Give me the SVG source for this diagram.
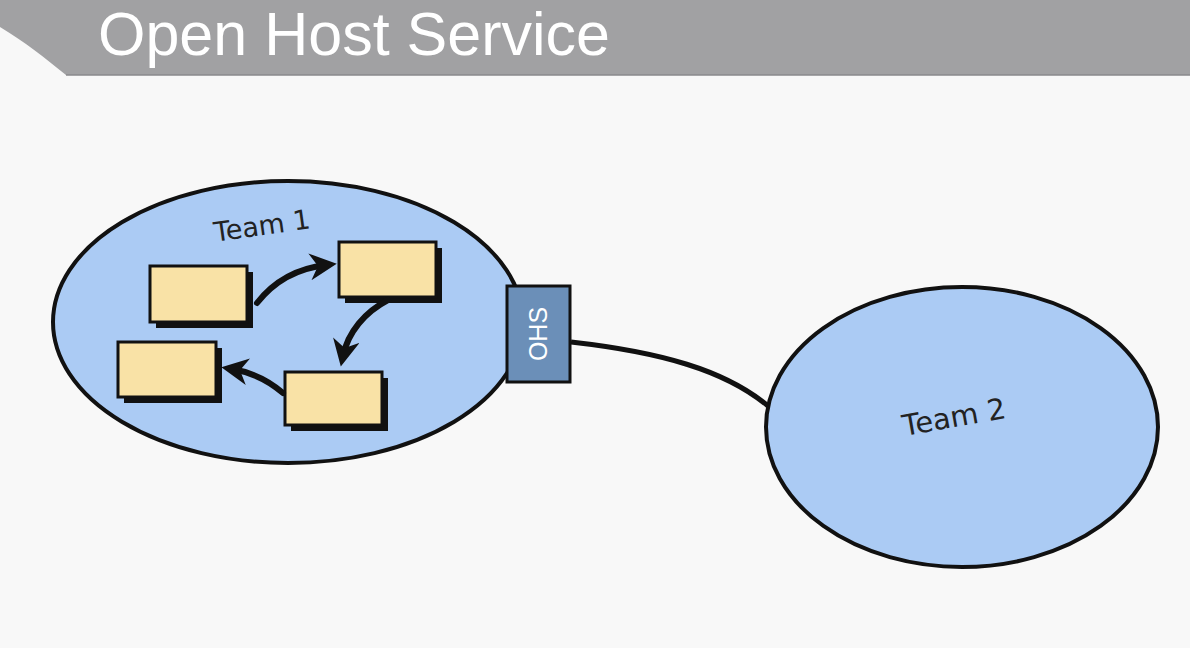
<svg xmlns="http://www.w3.org/2000/svg" width="1190" height="648" viewBox="0 0 1190 648">
<style>
.team{fill:#abcbf4;stroke:#111;stroke-width:4}
.box{fill:#f9e2a6;stroke:#111;stroke-width:3}
.shadow{fill:#111}
.lbl{font-family:"DejaVu Sans",Verdana,sans-serif;fill:#222}
.arr{fill:none;stroke:#111;stroke-width:6;stroke-linecap:round}
</style>
<defs>
<marker id="ah" viewBox="0 0 10 10" refX="6" refY="5" markerWidth="4.5" markerHeight="4.5" orient="auto" markerUnits="strokeWidth">
<path d="M0,0 L10,5 L0,10 L3,5 Z" fill="#111"/>
</marker>
</defs>
<rect x="0" y="0" width="1190" height="648" fill="#f8f8f8"/>
<g id="header">
<path d="M0,0 H1190 V75 H66 C45,58 25,42 0,27 Z" fill="#a1a1a3"/>
<line x1="66" y1="75" x2="1190" y2="75" stroke="#8a8a8c" stroke-width="1.5"/>
<text x="98" y="55" font-family="'Liberation Sans',Arial,sans-serif" font-size="61" fill="#ffffff">Open Host Service</text>
</g>
<g id="team1">
<ellipse class="team" cx="288" cy="322" rx="235" ry="141"/>
<text class="lbl" x="262" y="235" font-size="27" text-anchor="middle" transform="rotate(-8 262 226)">Team 1</text>
</g>
<g id="box-a">
<rect class="shadow" x="156" y="272" width="97" height="56"/>
<rect class="box" x="150" y="266" width="97" height="56"/>
</g>
<g id="box-b">
<rect class="shadow" x="345" y="248" width="97" height="55"/>
<rect class="box" x="339" y="242" width="97" height="55"/>
</g>
<g id="box-c">
<rect class="shadow" x="124" y="348" width="98" height="55"/>
<rect class="box" x="118" y="342" width="98" height="55"/>
</g>
<g id="box-d">
<rect class="shadow" x="291" y="378" width="97" height="53"/>
<rect class="box" x="285" y="372" width="97" height="53"/>
</g>
<g id="team2">
<ellipse class="team" cx="962" cy="427" rx="196" ry="140"/>
<text class="lbl" x="954" y="427" font-size="29" text-anchor="middle" transform="rotate(-10 954 417)">Team 2</text>
</g>
<g id="connectors">
<path class="arr" d="M257,303 C275,280 300,268 326,265" marker-end="url(#ah)"/>
<path class="arr" d="M388,300 C365,312 348,332 343,356" marker-end="url(#ah)"/>
<path class="arr" d="M283,393 C268,380 250,372 232,369" marker-end="url(#ah)"/>
<path d="M571,342 C660,352 725,370 768,406" fill="none" stroke="#111" stroke-width="5"/>
</g>
<g id="ohs">
<rect x="507" y="286" width="63" height="96" fill="#6b8fb8" stroke="#111" stroke-width="3"/>
<text x="538" y="334" font-family="'Liberation Sans',Arial,sans-serif" font-size="25" fill="#ffffff" text-anchor="middle" dominant-baseline="central" transform="rotate(-90 538 334)">OHS</text>
</g>
</svg>
